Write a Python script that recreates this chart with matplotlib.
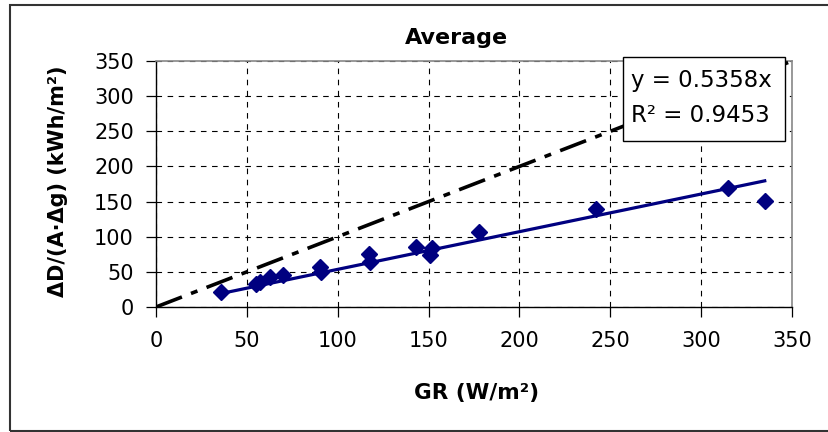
import matplotlib
matplotlib.use("Agg")
import matplotlib.pyplot as plt
from matplotlib.patches import Rectangle

# measured points
gr = [36, 55, 57, 63, 70, 90, 91, 117, 118, 143, 151, 152, 178, 242, 315, 335]
dd = [22, 33, 36, 42, 46, 57, 50, 76, 64, 85, 74, 84, 107, 140, 169, 151]

slope = 0.5358
r2 = 0.9453
xticks = [0, 50, 100, 150, 200, 250, 300, 350]
yticks = [0, 50, 100, 150, 200, 250, 300, 350]

plt.rcParams["font.family"] = ["DejaVu Sans"]
plt.rcParams["lines.scale_dashes"] = False

W, H = 829, 432
fig = plt.figure(figsize=(W / 100, H / 100), dpi=100)
ax = fig.add_axes([156 / W, 1 - 307 / H, (792 - 156) / W, (307 - 61) / H])

# chart frame
fig.patches.append(Rectangle((10 / W, 1 - 431 / H), 1.0, 426 / H, transform=fig.transFigure,
                             fill=False, lw=1.5, ec="#333333"))

# 1:1 reference line
ax.plot([0, 350], [0, 350], color="black", lw=2.6, dashes=(20, 7, 5, 7), zorder=3)

# trendline through origin
tx = [min(gr), max(gr)]
ax.plot(tx, [slope * v for v in tx], color="#000080", lw=2.3, zorder=4)
ax.plot(gr, dd, ls="none", marker="D", ms=8.5, color="#000080", zorder=5, clip_on=False)

ax.set_xlim(0, 350)
ax.set_ylim(0, 350)
ax.set_xticks(xticks)
ax.set_yticks(yticks)
ax.tick_params(direction="out", length=7, width=0.9, labelsize=15, color="black")
ax.tick_params(axis="x", pad=10)
ax.tick_params(axis="y", pad=9)
ax.grid(True, color="black", lw=0.8, ls=(0, (4, 4)))
ax.set_axisbelow(True)
for s in ["top", "right"]:
    ax.spines[s].set_color("#888888")
    ax.spines[s].set_linewidth(1.2)
for s in ["left", "bottom"]:
    ax.spines[s].set_linewidth(1.0)

fig.text(456 / W, 1 - 38 / H, "Average", ha="center", va="center", fontsize=16, fontweight="bold")
fig.text(477 / W, 1 - 393 / H, "GR (W/m²)", ha="center", va="center", fontsize=15.5, fontweight="bold")
fig.text(58 / W, 1 - 181 / H, "ΔD/(A·Δg) (kWh/m²)", ha="center", va="center", rotation=90,
         fontsize=15, fontweight="bold")

# equation box
fig.patches.append(Rectangle((623 / W, 1 - 141 / H), (785 - 623) / W, 84 / H, transform=fig.transFigure,
                             fc="white", ec="black", lw=1.0, zorder=10))
fig.text(631 / W, 1 - 80 / H, f"y = {slope}x", ha="left", va="center", fontsize=16.5, zorder=11)
fig.text(631 / W, 1 - 115 / H, f"R² = {r2}", ha="left", va="center", fontsize=16.5, zorder=11)

fig.savefig("out.png", dpi=100)
